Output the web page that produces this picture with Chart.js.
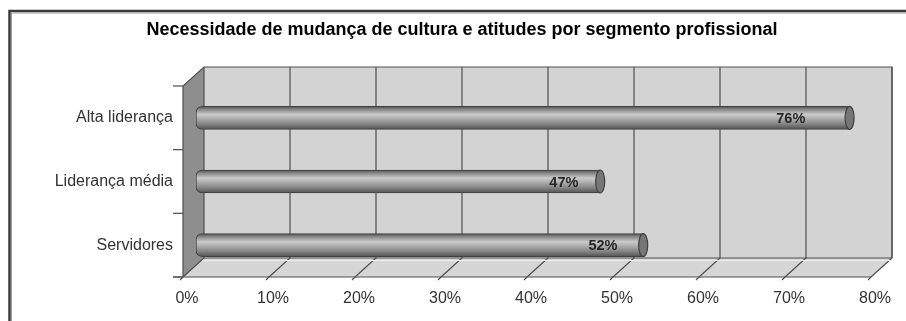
<!DOCTYPE html>
<html>
<head>
<meta charset="utf-8">
<script src="https://cdn.jsdelivr.net/npm/chart.js@4.4.1/dist/chart.umd.min.js"></script>
<style>
  html, body { margin: 0; padding: 0; background: #ffffff; }
  canvas { display: block; }
</style>
</head>
<body>
<canvas id="chart" width="906" height="321"></canvas>
<script>
// Chart content
const chartTitle = 'Necessidade de mudança de cultura e atitudes por segmento profissional';
const categories = ['Alta liderança', 'Liderança média', 'Servidores'];
const shares = [76, 47, 52];          // percent of respondents
const axisMin = 0;
const axisMax = 80;
const axisStep = 10;

const FONT = "'Liberation Sans', Arial, sans-serif";

// 3D box depth: the back wall sits up/right of the front plane
const DEPTH = { backDx: 8, frontDx: -13, dy: 19 };

const colors = {
  frame: '#3a3a3a',
  wall: '#d3d3d3',
  floor: '#d6d6d6',
  side: '#8e8e8e',
  line: '#4f4f4f',
  text: '#333333'
};

// Walls, floor, grid and frame of the 3D plot box
const boxPlugin = {
  id: 'box3d',
  beforeDraw(chart) {
    const ctx = chart.ctx;
    ctx.save();
    // outer frame (left and top edges)
    ctx.strokeStyle = colors.frame;
    ctx.lineWidth = 2.5;
    ctx.beginPath();
    ctx.moveTo(9.5, 330);
    ctx.lineTo(9.5, 11);
    ctx.lineTo(920, 11);
    ctx.stroke();
    ctx.strokeStyle = '#9a9a9a';
    ctx.lineWidth = 1;
    ctx.beginPath();
    ctx.moveTo(11.5, 330);
    ctx.lineTo(11.5, 13);
    ctx.lineTo(920, 13);
    ctx.stroke();
    ctx.restore();
  },
  beforeDatasetsDraw(chart) {
    const ctx = chart.ctx;
    const xs = chart.scales.x;
    const a = chart.chartArea;
    const bx = v => xs.getPixelForValue(v) + DEPTH.backDx;
    const fx = v => xs.getPixelForValue(v) + DEPTH.frontDx;
    const backTop = a.top - DEPTH.dy;
    const backBottom = a.bottom - DEPTH.dy;
    const frontTop = a.top;
    const frontBottom = a.bottom;

    ctx.save();
    ctx.lineJoin = 'miter';

    // back wall
    ctx.fillStyle = colors.wall;
    ctx.fillRect(bx(axisMin), backTop, bx(axisMax) - bx(axisMin), backBottom - backTop);

    // floor
    ctx.fillStyle = colors.floor;
    ctx.beginPath();
    ctx.moveTo(bx(axisMin), backBottom);
    ctx.lineTo(bx(axisMax), backBottom);
    ctx.lineTo(fx(axisMax), frontBottom);
    ctx.lineTo(fx(axisMin), frontBottom);
    ctx.closePath();
    ctx.fill();

    // side wall
    ctx.fillStyle = colors.side;
    ctx.beginPath();
    ctx.moveTo(fx(axisMin), frontTop);
    ctx.lineTo(bx(axisMin), backTop);
    ctx.lineTo(bx(axisMin), backBottom);
    ctx.lineTo(fx(axisMin), frontBottom);
    ctx.closePath();
    ctx.fill();

    ctx.strokeStyle = colors.line;
    ctx.lineWidth = 1.2;

    // grid on back wall and floor
    for (let v = axisMin; v <= axisMax; v += axisStep) {
      ctx.beginPath();
      ctx.moveTo(bx(v), backTop);
      ctx.lineTo(bx(v), backBottom);
      ctx.lineTo(fx(v), frontBottom);
      ctx.lineTo(fx(v) - 3, frontBottom + 3);
      ctx.stroke();
    }

    // box outline
    ctx.beginPath();
    ctx.moveTo(fx(axisMin), frontBottom);
    ctx.lineTo(fx(axisMin), frontTop);
    ctx.lineTo(bx(axisMin), backTop);
    ctx.lineTo(bx(axisMax), backTop);
    ctx.lineTo(bx(axisMax), backBottom);
    ctx.moveTo(bx(axisMin), backBottom);
    ctx.lineTo(bx(axisMax), backBottom);
    ctx.moveTo(fx(axisMin) - 10, frontBottom);
    ctx.lineTo(fx(axisMax), frontBottom);
    ctx.stroke();

    // light edge along back of floor
    ctx.strokeStyle = '#eeeeee';
    ctx.lineWidth = 1;
    ctx.beginPath();
    ctx.moveTo(bx(axisMin) - 2, backBottom + 2.5);
    ctx.lineTo(bx(axisMax) - 2, backBottom + 2.5);
    ctx.stroke();

    // category tick marks on the front edge
    ctx.strokeStyle = colors.line;
    ctx.lineWidth = 1.2;
    const n = categories.length;
    const band = (a.bottom - a.top) / n;
    for (let i = 0; i <= n; i++) {
      const y = a.top + band * i;
      ctx.beginPath();
      ctx.moveTo(fx(axisMin) - 10, y);
      ctx.lineTo(fx(axisMin), y);
      ctx.stroke();
    }
    ctx.restore();
  },
  afterDatasetsDraw(chart) {
    const ctx = chart.ctx;
    const meta = chart.getDatasetMeta(0);
    ctx.save();
    meta.data.forEach((bar, i) => {
      const h = bar.height;
      // end cap of the cylinder
      ctx.beginPath();
      ctx.ellipse(bar.x, bar.y, 4.5, h / 2, 0, 0, Math.PI * 2);
      ctx.fillStyle = '#767676';
      ctx.fill();
      ctx.strokeStyle = '#404040';
      ctx.lineWidth = 1.2;
      ctx.stroke();
      // value label
      const cx = bar.base + 0.91 * (bar.x - bar.base);
      ctx.font = 'bold 14.5px ' + FONT;
      ctx.fillStyle = '#262626';
      ctx.textAlign = 'center';
      ctx.textBaseline = 'middle';
      ctx.fillText(shares[i] + '%', cx, bar.y + 1);
    });
    ctx.restore();
  }
};

// shaded cylinder body
function cylinderFill(c) {
  const chart = c.chart;
  if (!chart.chartArea) return '#a0a0a0';
  const yc = chart.scales.y.getPixelForValue(c.dataIndex);
  const half = 11.5;
  const g = chart.ctx.createLinearGradient(0, yc - half, 0, yc + half);
  g.addColorStop(0, '#525252');
  g.addColorStop(0.12, '#828282');
  g.addColorStop(0.35, '#cacaca');
  g.addColorStop(0.5, '#b4b4b4');
  g.addColorStop(0.8, '#7e7e7e');
  g.addColorStop(1, '#515151');
  return g;
}

new Chart(document.getElementById('chart'), {
  type: 'bar',
  data: {
    labels: categories,
    datasets: [{
      data: shares,
      backgroundColor: cylinderFill,
      borderColor: '#404040',
      borderWidth: 1,
      borderSkipped: false,
      borderRadius: { topLeft: 6, bottomLeft: 6, topRight: 0, bottomRight: 0 },
      barThickness: 23
    }]
  },
  options: {
    indexAxis: 'y',
    responsive: false,
    animation: false,
    devicePixelRatio: 1,
    layout: { padding: { left: 40, right: 22, top: 0, bottom: 0 } },
    plugins: {
      legend: { display: false },
      tooltip: { enabled: false },
      title: {
        display: true,
        text: chartTitle,
        color: '#000000',
        font: { family: FONT, size: 18, weight: 'bold', lineHeight: 1.2 },
        padding: { top: 19.5, bottom: 44.9 }
      }
    },
    scales: {
      x: {
        type: 'linear',
        position: 'bottom',
        min: axisMin,
        max: axisMax,
        grid: { display: false, drawTicks: false },
        border: { display: false },
        ticks: {
          stepSize: axisStep,
          padding: 12,
          labelOffset: -9,
          color: colors.text,
          font: { family: FONT, size: 16 },
          callback: v => v + '%'
        },
        afterFit(s) { s.height = 44; s.paddingLeft = 0; s.paddingRight = 0; }
      },
      y: {
        type: 'category',
        position: 'left',
        grid: { display: false, drawTicks: false },
        border: { display: false },
        ticks: {
          padding: 23,
          color: colors.text,
          font: { family: FONT, size: 16 }
        },
        afterFit(s) { s.width = 156; s.paddingTop = 0; s.paddingBottom = 0; }
      }
    }
  },
  plugins: [boxPlugin]
});
</script>
</body>
</html>
